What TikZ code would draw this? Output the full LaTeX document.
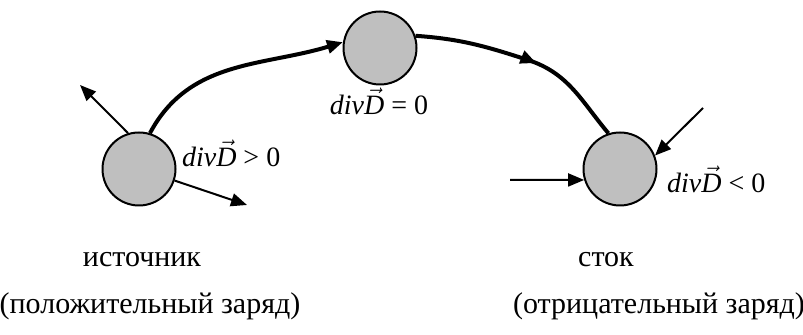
\documentclass[tikz,border=0pt]{standalone}
\usepackage{fontspec}
\setmainfont{Liberation Serif}
\usetikzlibrary{arrows.meta, positioning, decorations.markings}

\newcommand{\divD}{\textit{div}$\vec{\textit{D}}$}

\begin{document}
\begin{tikzpicture}[
    x=0.5pt, y=-0.5pt,
    >={Triangle[length=8pt,width=6.5pt]},
    % заряды и линии поля
    charge/.style={circle, draw, line width=1pt, fill=black!25, minimum size=36.5pt, inner sep=0pt},
    field/.style={->, line width=1pt},
    flux/.style={line width=2pt},
    midarrow/.style={postaction={decorate}, decoration={markings, mark=at position #1 with {\arrow{>}}}},
    caption/.style={font=\fontsize{15}{18}\selectfont},
    divlabel/.style={font=\fontsize{14}{16}\selectfont}
]
    \useasboundingbox (0,0) rectangle (803,335);

    % --- заряды ---
    \node[charge] (src) at (139,169) {};
    \node[charge] (mid) at (380,48) {};
    \node[charge] (snk) at (620,169) {};

    % --- свободные концы стрелок ---
    \coordinate (srcout1) at (80,85);
    \coordinate (srcout2) at (247,205);
    \coordinate (snkin1) at (510,180);
    \coordinate (snkin2) at (703,108);
    \coordinate (bend) at (528,60);

    % --- линии поля у источника и стока ---
    \draw[field] (src.107) -- (srcout1);
    \draw[field] (src.-18) -- (srcout2);
    \draw[field] (snkin1) -- (snk.197);
    \draw[field] (snkin2) -- (snk.21);

    % --- поток от источника к стоку ---
    \draw[flux, ->] (src.73) to[out=62,in=197] (mid.171);
    \draw[flux, midarrow=0.55] (mid.19) to[out=-4,in=162] (bend)
        to[out=-18,in=130] (snk.108);

    % --- подписи ---
    \node[divlabel, anchor=west] (srclabel) at (175,153) {\divD\ > 0};
    \node[divlabel] (midlabel) at (379,101) {\divD\ = 0};
    \node[divlabel, anchor=west] (snklabel) at (660,179) {\divD\ < 0};

    \node[caption] (srcname) at (142,260) {источник};
    \node[caption] (snkname) at (606,260) {сток};
    \node[caption] (srcsign) at (150,306) {(положительный заряд)};
    \node[caption] (snksign) at (659,306) {(отрицательный заряд)};
\end{tikzpicture}
\end{document}
